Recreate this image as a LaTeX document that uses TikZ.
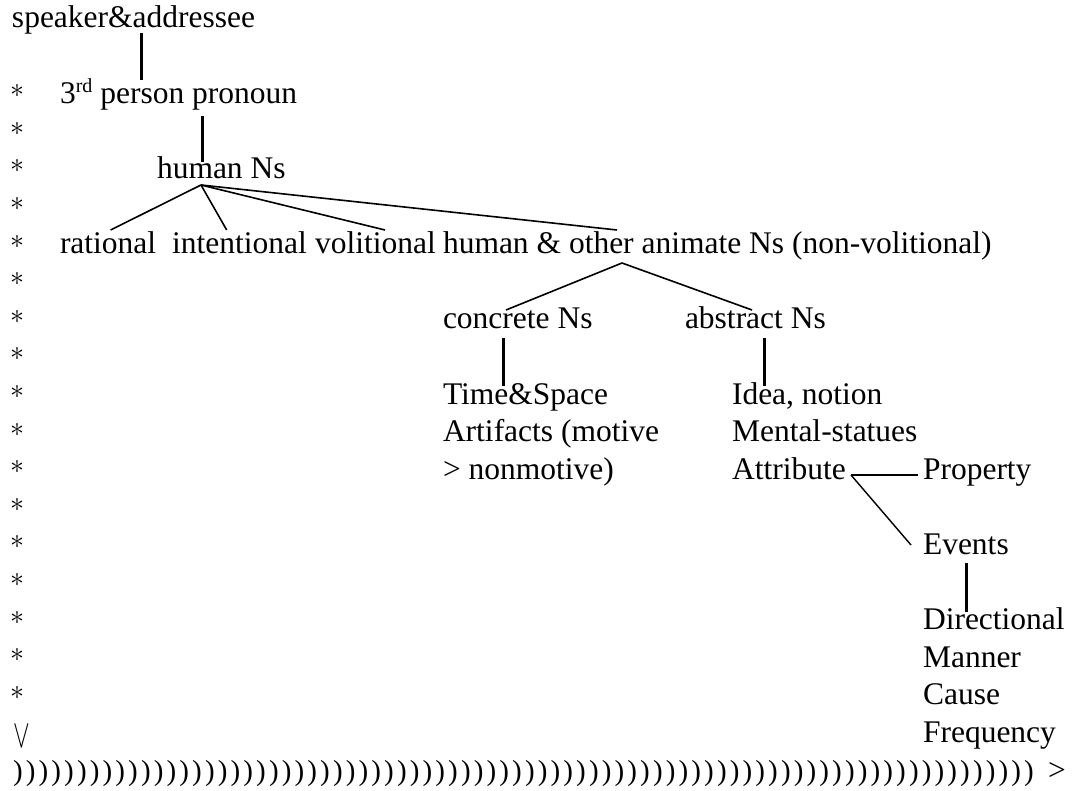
\documentclass[tikz,border=0pt]{standalone}
\usepackage{fontspec}
\setmainfont{Liberation Serif}
\usepackage{graphicx}
\usetikzlibrary{calc}
\begin{document}
\begin{tikzpicture}[x=1pt,y=-1pt,
  txt/.style={anchor=base west,inner sep=0pt,outer sep=0pt,font=\fontsize{31.5}{37.6}\selectfont},
  vline/.style={line width=3pt},
  dline/.style={line width=1.6pt},
  hline/.style={line width=1.4pt},
  astx/.style={inner sep=0pt,outer sep=0pt,anchor=center},
  paren/.style={anchor=base west,inner sep=0pt,outer sep=0pt,font=\fontsize{29}{30}\selectfont}]
\fill[white] (0,0) rectangle (1073,791);
\useasboundingbox (0,0) rectangle (1073,791);

% texts
\node[txt] (spk) at (12,28) {speaker\&addressee};
\node[txt] (thrd) at (60,103.2) {3\raisebox{11pt}{\fontsize{20}{20}\selectfont rd} person pronoun};
\node[txt] (hum) at (157,178.4) {human Ns};
\node[txt] (rat) at (60,253.6) {rational};
\node[txt] (int) at (172,253.6) {intentional};
\node[txt] (vol) at (315,253.6) {volitional};
\node[txt] (hao) at (443,253.6) {human \& other animate Ns (non-volitional)};
\node[txt] (con) at (443,328.8) {concrete Ns};
\node[txt] (abs) at (685,328.8) {abstract Ns};
\node[txt] (tim) at (443,404) {Time\&Space};
\node[txt] (art) at (443,441.6) {Artifacts (motive};
\node[txt] (nonm) at (443,479.2) {> nonmotive)};
\node[txt] (idea) at (732,404) {Idea, notion};
\node[txt] (ment) at (732,441.6) {Mental-statues};
\node[txt] (attr) at (732,479.2) {Attribute};
\node[txt] (prop) at (923,479.2) {Property};
\node[txt] (ev) at (923,554.4) {Events};
\node[txt] (dir) at (923,629.6) {Directional};
\node[txt] (man) at (923,667.2) {Manner};
\node[txt] (cau) at (923,704.8) {Cause};
\node[txt] (freq) at (923,742.4) {Frequency};

% left column of asterisks and the vee
\foreach \k in {2,...,18}
  \node[astx] (ast\k) at (17,{28+37.6*\k-12}) {\scalebox{2.8}{$\ast$}};
\node[inner sep=0pt,outer sep=0pt,anchor=north] (vee) at (22,725) {\scalebox{2.5}[4]{$\vee$}};

% bottom row
\foreach \i in {0,...,79}
  \node[paren] (p\i) at ({13+12.8*\i},780) {)};
\node[txt] (gt) at (1048,780) {>};

% connectors
\draw[vline] ($(spk.base west)+(129.7,5)$) -- ($(thrd.base west)+(81.7,-23.2)$);
\draw[vline] ($(thrd.base west)+(142.7,12.8)$) -- ($(hum.base west)+(45.7,-16.4)$);
\coordinate (humtop) at ($(hum.base west)+(44,6.6)$);
\draw[dline] (humtop) -- ($(rat.base west)+(50.6,-23.6)$);
\draw[dline] (humtop) -- ($(int.base west)+(54.7,-23.6)$);
\draw[dline] (humtop) -- ($(vol.base west)+(70,-23.6)$);
\draw[dline] (humtop) -- ($(hao.base west)+(174,-23.6)$);
\coordinate (haotop) at ($(hao.base west)+(179,9.4)$);
\draw[dline] (haotop) -- ($(con.base west)+(63,-18.8)$);
\draw[dline] (haotop) -- ($(abs.base west)+(67,-18.8)$);
\draw[vline] ($(con.base west)+(60,9.2)$) -- ($(tim.base west)+(60,-18)$);
\draw[vline] ($(abs.base west)+(79,9.2)$) -- ($(idea.base west)+(32,-18)$);
\coordinate (attrr) at ($(attr.base west)+(119,-4.2)$);
\draw[hline] (attrr) -- ($(prop.base west)+(-5,-4.2)$);
\draw[hline] (attrr) -- ($(ev.base west)+(-12,-9.4)$);
\draw[vline] ($(ev.base west)+(43.7,8.6)$) -- ($(dir.base west)+(43.7,-17.9)$);
\end{tikzpicture}
\end{document}
